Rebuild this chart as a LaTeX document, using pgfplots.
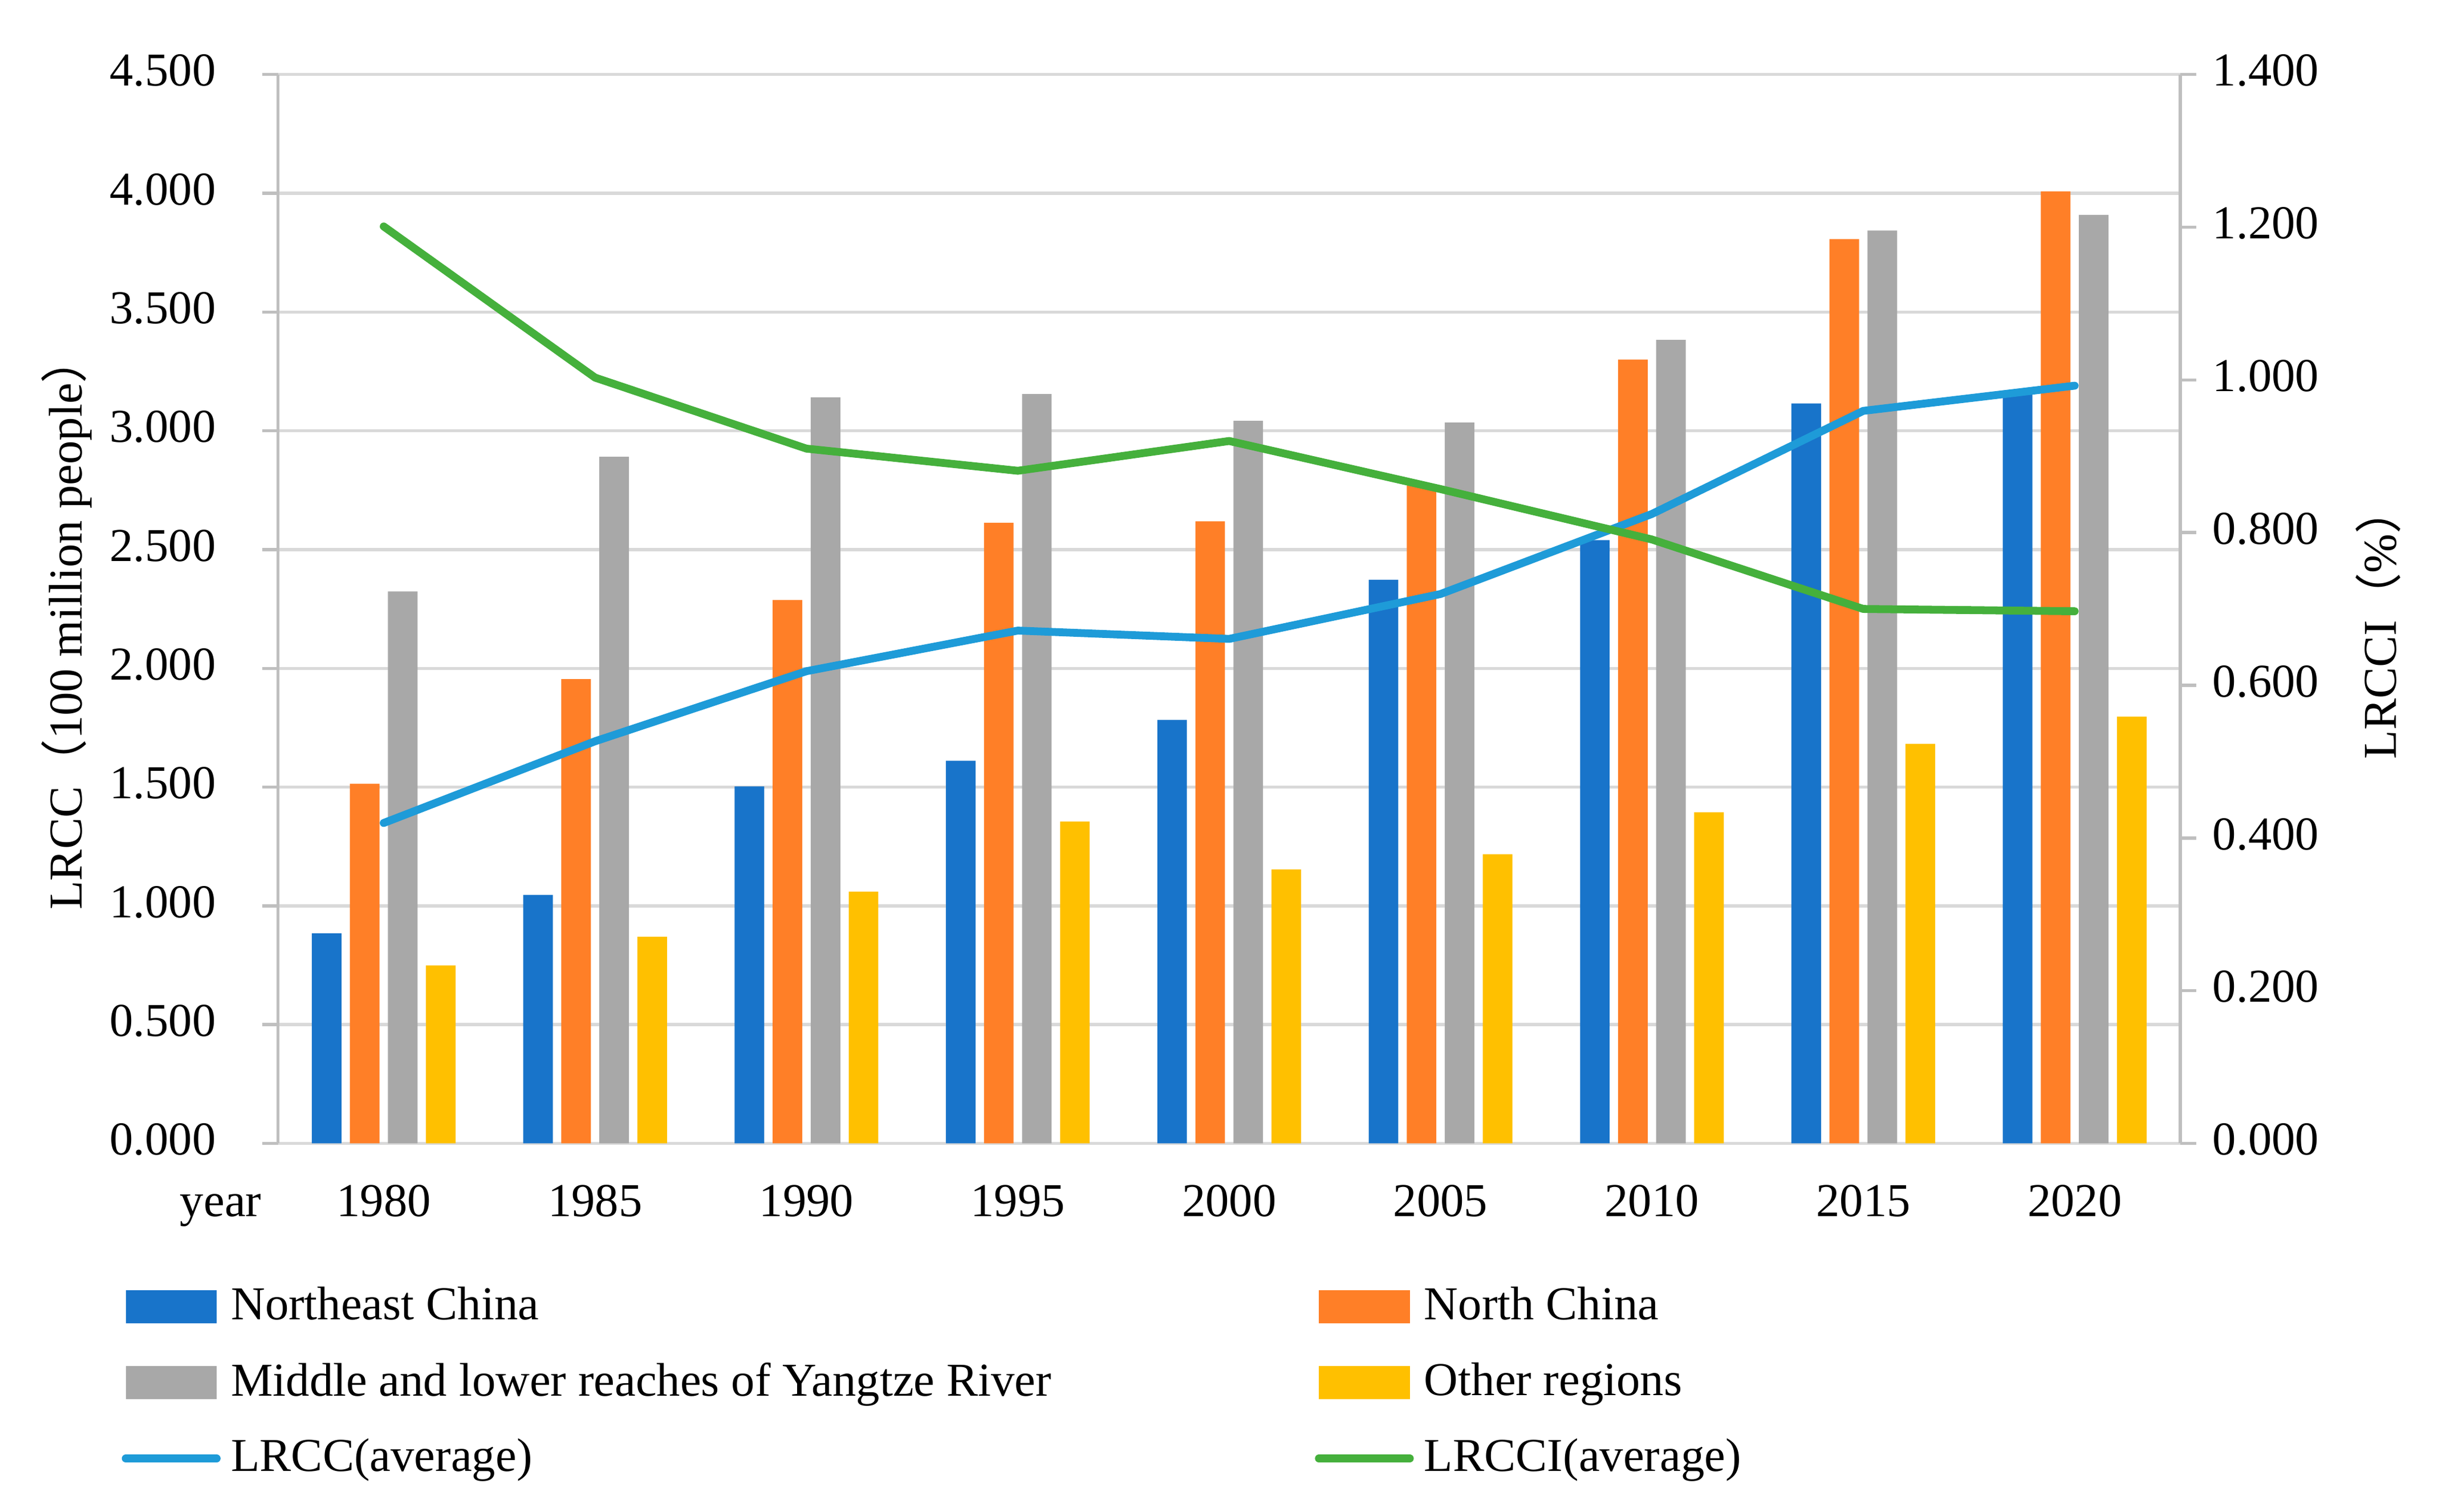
\documentclass[border=0pt]{standalone}
\usepackage{fontspec}
\setmainfont{Liberation Serif}
\newfontfamily\cjk{Noto Sans CJK SC}
\usepackage{pgfplots}
\usepackage{pgfplotstable}
\pgfplotsset{compat=1.18}

\definecolor{cNE}{HTML}{1874CA}
\definecolor{cNC}{HTML}{FF7F27}
\definecolor{cYZ}{HTML}{A8A8A8}
\definecolor{cOT}{HTML}{FFC000}
\definecolor{cLRCC}{HTML}{1E9BD8}
\definecolor{cLRCCI}{HTML}{45B03C}
\definecolor{gridc}{HTML}{D9D9D9}
\definecolor{axc}{HTML}{BFBFBF}

% LRCC by region (100 million people), year index 0 = 1980 ... 8 = 2020
\pgfplotstableread{
x ne    nc    yz    ot    avg
0 0.884 1.514 2.324 0.749 1.349
1 1.046 1.955 2.891 0.870 1.693
2 1.503 2.288 3.141 1.060 1.988
3 1.611 2.613 3.155 1.355 2.159
4 1.783 2.619 3.042 1.153 2.124
5 2.373 2.770 3.035 1.217 2.313
6 2.540 3.300 3.383 1.394 2.650
7 3.115 3.807 3.843 1.682 3.084
8 3.160 4.008 3.909 1.797 3.190
}\lrcc

% LRCCI average (%)
\pgfplotstableread{
x lrcci
0 1.201
1 1.003
2 0.910
3 0.881
4 0.920
5 0.857
6 0.791
7 0.700
8 0.697
}\lrcci

\pgfplotsset{
  common/.style={
    scale only axis, width=12.76cm, height=7.17cm,
    xmin=-0.5, xmax=8.5,
    tick align=outside, major tick length=0.105cm,
    /pgf/number format/assume math mode=true,
    yticklabel style={/pgf/number format/fixed,
      /pgf/number format/fixed zerofill,
      /pgf/number format/precision=3},
    y axis line style={draw=axc, line width=0.6pt, -},
    ytick style={draw=axc, line width=0.6pt},
    typeset ticklabels with strut,
  },
  barleg/.style={legend image code/.code={\fill[##1,draw=none] (0cm,-0.11cm) rectangle (0.61cm,0.11cm);}},
  lineleg/.style={legend image code/.code={\draw[##1,line cap=round] (0cm,0cm) -- (0.61cm,0cm);}},
}

\begin{document}
\fontsize{9}{11}\selectfont
\begin{tikzpicture}
\begin{axis}[common, name=ax,
  ymin=0, ymax=4.5,
  ytick={0,0.5,1,1.5,2,2.5,3,3.5,4,4.5},
  yticklabel style={xshift=-0.2cm},
  xtick={0,1,2,3,4,5,6,7,8},
  xticklabels={1980,1985,1990,1995,2000,2005,2010,2015,2020},
  extra x ticks={-0.5}, extra x tick labels={year},
  extra x tick style={xticklabel style={anchor=north east}, grid=none},
  xtick style={draw=none},
  axis x line*=bottom, axis y line*=left,
  x axis line style={draw=gridc, line width=0.6pt, -},
  ymajorgrids, grid style={draw=gridc, line width=0.6pt},
  every axis y label/.style={at={(axis description cs:-0.111,0.487)}, rotate=90, anchor=center},
  ylabel={LRCC{\cjk （}100 million people{\cjk ）}},
  legend columns=2, legend cell align=left,
  legend style={at={(0,0)}, anchor=north west, xshift=-1.055cm, yshift=-0.885cm,
    draw=none, fill=none, inner sep=0pt, row sep=0.1cm,
    cells={anchor=west, inner xsep=1.6pt}},
]
\addplot[ybar, bar width=0.14, bar shift=-0.27, fill=cNE, draw=none, barleg] table[x=x,y=ne]{\lrcc};
\addlegendentry{\makebox[7.2cm][l]{Northeast China}}
\addplot[ybar, bar width=0.14, bar shift=-0.09, fill=cNC, draw=none, barleg] table[x=x,y=nc]{\lrcc};
\addlegendentry{North China}
\addplot[ybar, bar width=0.14, bar shift=0.09, fill=cYZ, draw=none, barleg] table[x=x,y=yz]{\lrcc};
\addlegendentry{\makebox[7.2cm][l]{Middle and lower reaches of Yangtze River}}
\addplot[ybar, bar width=0.14, bar shift=0.27, fill=cOT, draw=none, barleg] table[x=x,y=ot]{\lrcc};
\addlegendentry{Other regions}
\addplot[cLRCC, line width=1.5pt, line cap=round, line join=round, lineleg] table[x=x,y=avg]{\lrcc};
\addlegendentry{\makebox[7.2cm][l]{LRCC(average)}}
\addlegendimage{cLRCCI, line width=1.5pt, lineleg}
\addlegendentry{LRCCI(average)}
\end{axis}
\begin{axis}[common,
  ymin=0, ymax=1.4,
  ytick={0,0.2,0.4,0.6,0.8,1.0,1.2,1.4},
  axis y line*=right, axis x line=none,
  every axis y label/.style={at={(axis description cs:1.104,0.487)}, rotate=90, anchor=center},
  ylabel={LRCCI{\cjk （}\%{\cjk ）}},
]
\addplot[cLRCCI, line width=1.5pt, line cap=round, line join=round] table[x=x,y=lrcci]{\lrcci};
\end{axis}
\pgfresetboundingbox
\path ([xshift=-1.865cm,yshift=-2.47cm]ax.south west) rectangle ([xshift=1.755cm,yshift=0.5cm]ax.north east);
\end{tikzpicture}
\end{document}
